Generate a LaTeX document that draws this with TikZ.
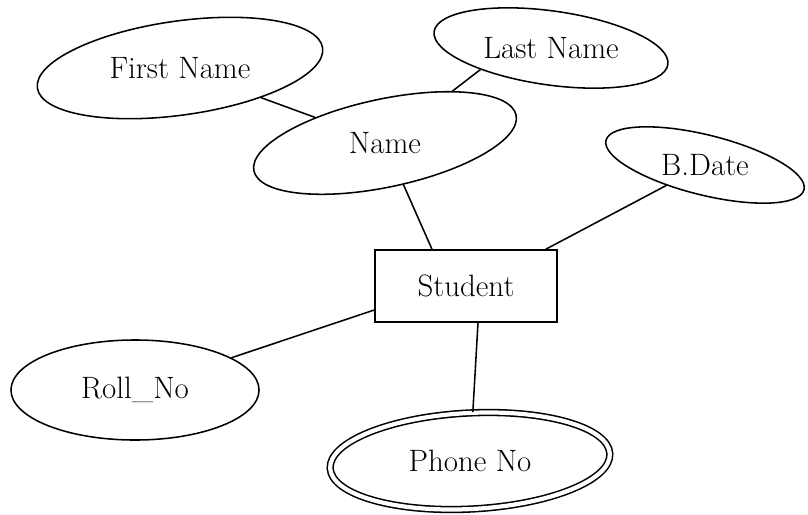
\documentclass[tikz,border=0pt]{standalone}
\usetikzlibrary{shapes,positioning}

\begin{document}
\begin{tikzpicture}[
    x=0.025cm, y=-0.025cm,
    attr/.style = {ellipse, draw, line width=1.1pt, inner sep=0pt, font=\fontsize{22}{26}\selectfont},
    multiattr/.style = {attr, double, double distance=3pt},
    entity/.style = {rectangle, draw, line width=1.1pt, minimum width=4.55cm, minimum height=1.8cm, font=\fontsize{22}{26}\selectfont},
    link/.style = {line width=1.1pt}
]
\useasboundingbox (0,0) rectangle (808,514);

\node[entity] (student) at (466,286) {Student};
\node[attr, minimum width=7.2cm, minimum height=2.35cm, rotate=8] (first) at (180,68) {\rotatebox{-8}{First Name}};
\node[attr, minimum width=5.9cm, minimum height=1.85cm, rotate=-8] (last) at (551,48) {\rotatebox{8}{Last Name}};
\node[attr, minimum width=6.7cm, minimum height=2.2cm, rotate=12] (name) at (385,143) {\rotatebox{-12}{Name}};
\node[attr, minimum width=5.1cm, minimum height=1.5cm, rotate=-14] (bdate) at (705,165) {\rotatebox{14}{B.Date}};
\node[attr, minimum width=6.2cm, minimum height=2.5cm] (roll) at (135,390) {Roll\_No};
\node[multiattr, minimum width=7cm, minimum height=2.4cm, rotate=3] (phone) at (470,461) {\rotatebox{-3}{Phone No}};

% attribute links
\draw[link] (name) -- (first);
\draw[link] (name) -- (last.205);
\draw[link] (name) -- ([xshift=-0.85cm]student.north);
\draw[link] (bdate) -- ([xshift=-0.3cm]student.north east);
\draw[link] (roll) -- ([yshift=-0.6cm]student.west);
\draw[link] (phone) -- ([xshift=0.3cm]student.south);
\end{tikzpicture}
\end{document}
